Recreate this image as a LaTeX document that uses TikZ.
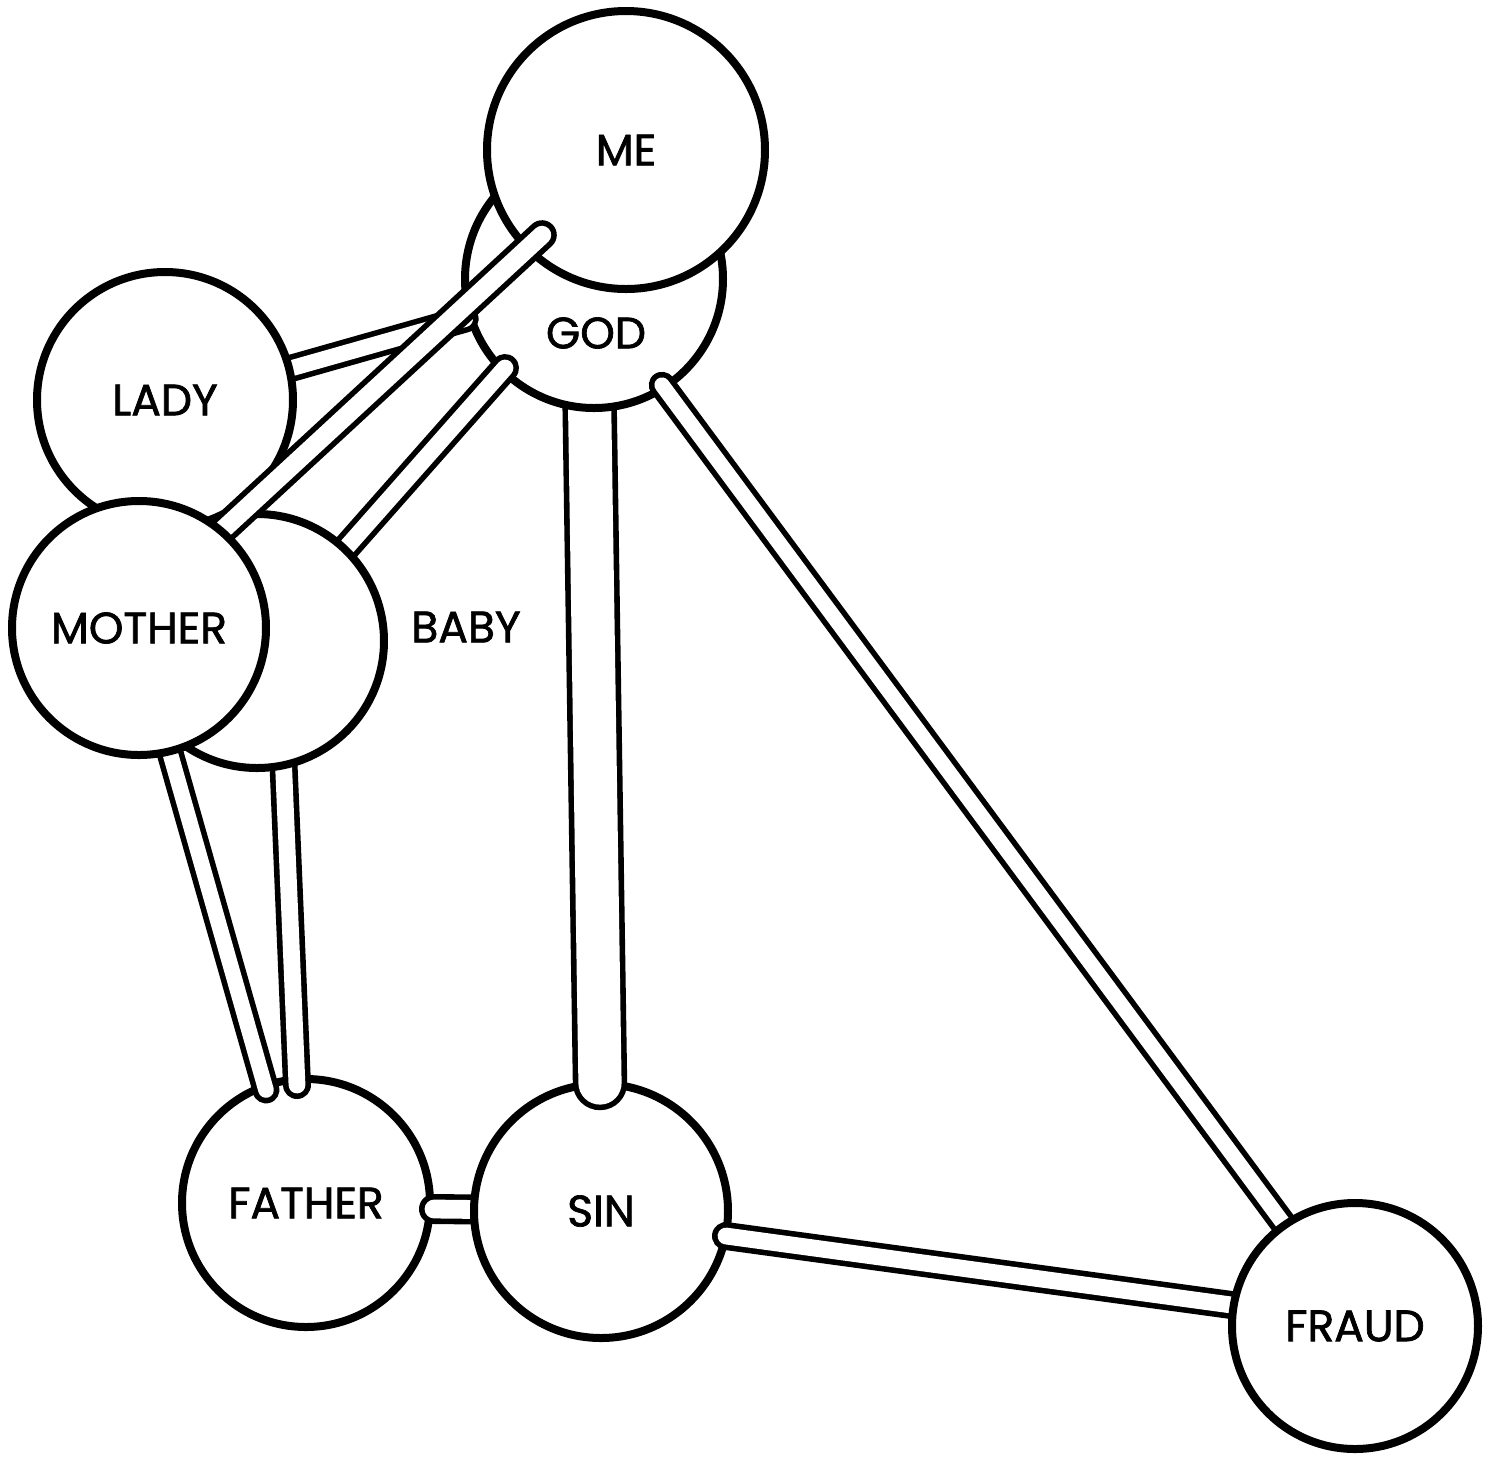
\documentclass[tikz,border=0pt]{standalone}
\usepackage{fontspec}
\setmainfont{Poppins}[FakeBold=1.6]
\usetikzlibrary{calc}
\pgfdeclarelayer{l0}\pgfdeclarelayer{l1}\pgfdeclarelayer{l2}\pgfdeclarelayer{l3}
\pgfdeclarelayer{l4}\pgfdeclarelayer{l5}\pgfdeclarelayer{l6}\pgfdeclarelayer{l7}
\pgfdeclarelayer{l8}
\pgfsetlayers{l0,l1,l2,l3,l4,l5,l6,l7,l8,main}
\tikzset{
  ball/.style={circle, draw=black, line width=4pt, fill=white, inner sep=0pt,
               minimum size=#1, font=\fontsize{22}{26}\selectfont},
  rod/.style={draw=black, line width=2.8pt, double=white, double distance=#1, line cap=round},
  lbl/.style={font=\fontsize{22}{26}\selectfont, inner sep=0pt},
}
\begin{document}
\begin{tikzpicture}[x=0.5pt,y=-0.5pt]
\useasboundingbox (0,0) rectangle (1496,1464);
\begin{pgfonlayer}{l0}
  \fill[white] (0,0) rectangle (1496,1464);
  \node[ball=124pt] (FATHER) at (306,1203) {FATHER};
\end{pgfonlayer}
\begin{pgfonlayer}{l2}
  \node[ball=127pt] (SIN) at (601,1211) {SIN};
\end{pgfonlayer}
\begin{pgfonlayer}{l4}
  \node[ball=129pt] (GOD) at (594,279) {};
  \node[ball=139pt] (ME) at (626,150) {ME};
\end{pgfonlayer}
\begin{pgfonlayer}{l6}
  \node[ball=128pt] (LADY) at (165,400) {LADY};
  \node[ball=127pt] (BABY) at (257,641) {};
  \node[ball=123pt] (FRAUD) at (1355,1326) {FRAUD};
\end{pgfonlayer}
\begin{pgfonlayer}{l8}
  \node[ball=127pt] (MOTHER) at (139,628) {MOTHER};
\end{pgfonlayer}
\node[lbl] (godlabel) at (596,333) {GOD};
\node[lbl] (babylabel) at (466,627) {BABY};
% rods
\begin{pgfonlayer}{l1}
  \draw[rod=7.8pt] ($(MOTHER)+(12,58)$) -- ($(FATHER)+(-40,-113)$);
  \draw[rod=8.4pt] ($(BABY)+(24,64)$) -- ($(FATHER)+(-9,-118)$);
  \draw[rod=9.4pt] ($(SIN)+(-81,-1)$) -- ($(FATHER)+(128,6)$);
\end{pgfonlayer}
\begin{pgfonlayer}{l3}
  \draw[rod=21.6pt] ($(GOD)+(-6,21)$) -- ($(SIN)+(-1,-128)$);
  \draw[rod=8.4pt] ($(FRAUD)+(-65,-13)$) -- ($(SIN)+(125,25)$);
\end{pgfonlayer}
\begin{pgfonlayer}{l5}
  \draw[rod=8.0pt] ($(LADY)+(85,-20)$) -- ($(GOD)+(-129,40)$);
  \draw[rod=8.4pt] ($(BABY)+(73,-75)$) -- ($(GOD)+(-89,89)$);
  \draw[rod=7.6pt] ($(FRAUD)+(-55,-80)$) -- ($(GOD)+(68,106)$);
\end{pgfonlayer}
\begin{pgfonlayer}{l7}
  \draw[rod=9.2pt] ($(MOTHER)+(51,-68)$) -- ($(ME)+(-84,85)$);
\end{pgfonlayer}
\end{tikzpicture}
\end{document}
